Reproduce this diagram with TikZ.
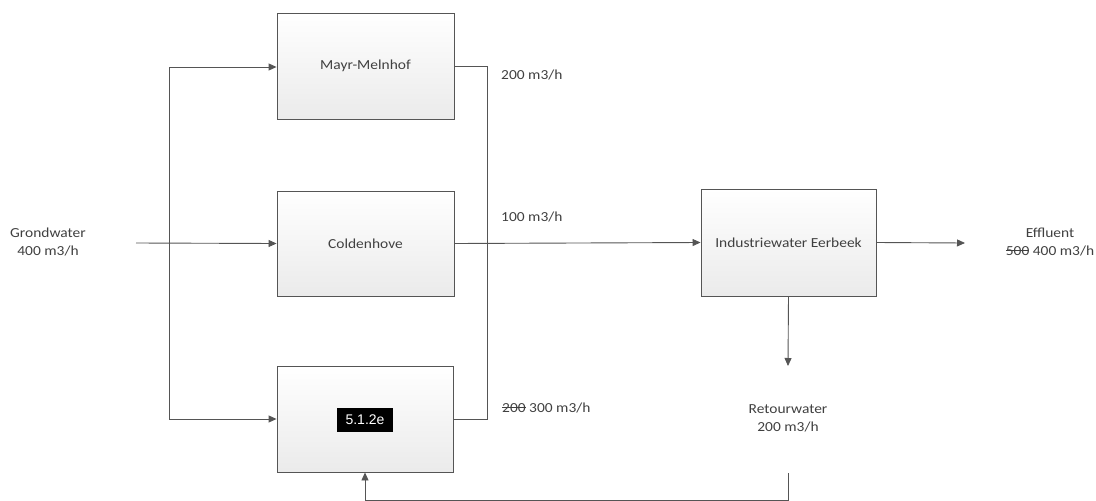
\documentclass[tikz,border=0pt]{standalone}
\usepackage{fontspec}
\setmainfont{Carlito}[FakeStretch=1.12]
\newfontfamily\arialfont{Liberation Sans}
\usetikzlibrary{arrows.meta}
\newcommand\mystrike[1]{\leavevmode\setbox0=\hbox{#1}\rlap{\raisebox{0.3em}{\rule{\wd0}{0.07em}}}\box0\relax}
\definecolor{linegray}{HTML}{555555}
\definecolor{txtgray}{HTML}{404040}
\tikzset{
  procbox/.style={draw=linegray, line width=0.9pt, top color=white, bottom color=black!8,
    minimum width=177pt, minimum height=106pt, inner sep=0pt, text=txtgray,
    font=\fontsize{13.8}{18}\selectfont},
  flow/.style={draw=linegray, line width=0.9pt, -{Triangle[length=8pt,width=7pt]}},
  plain/.style={draw=linegray, line width=0.9pt},
  lbl/.style={text=txtgray, font=\fontsize{13.8}{18}\selectfont, inner sep=0pt, align=center},
  redact/.style={fill=black, text=white, font=\arialfont\fontsize{14}{16}\selectfont, minimum width=56pt, minimum height=24pt, inner sep=0pt}
}
\begin{document}
\begin{tikzpicture}[x=1pt,y=-1pt]
\useasboundingbox (0,0) rectangle (1096,501);
% boxes
\node[procbox] (mayr) at (365.5,66) {Mayr-Melnhof};
\node[procbox, minimum height=105pt] (cold) at (365.5,243.5) {Coldenhove};
\node[procbox, minimum width=176pt] (bot) at (365,419) {};
\node[redact] (red) at (365,420) {5.1.2e};
\node[procbox, minimum width=175pt, minimum height=107pt] (ind) at (788.5,242.5) {Industriewater Eerbeek};
% labels
\node[lbl] (gw) at (48,242) {Grondwater\\400 m3/h};
\node[lbl, anchor=west] (l200) at (501,75) {200 m3/h};
\node[lbl, anchor=west] (l100) at (501,217) {100 m3/h};
\node[lbl, anchor=west] (l300) at (502,408) {\mystrike{200} 300 m3/h};
\node[lbl] (eff) at (1050,242) {Effluent\\\mystrike{500} 400 m3/h};
\node[lbl] (ret) at (788,418) {Retourwater\\200 m3/h};
% coordinates
\coordinate (gin) at (136,243);
\coordinate (jt) at (169,67);
\coordinate (jb) at (169,419);
\coordinate (jm) at (487,243);
\coordinate (eo) at (965,243);
\coordinate (rt) at (788,366);
\coordinate (r1) at (788,473);
\coordinate (r2) at (788,500.8);
% connectors
\draw[flow] (gin) -- (cold.west);
\draw[plain] (jt) -- (jb);
\draw[flow] (jt) -- (mayr.west |- jt);
\draw[flow] (jb) -- (bot.west |- jb);
\draw[plain] (mayr.east) -| (jm);
\draw[plain] (bot.east) -| (jm);
\draw[flow] (cold.east) -- (ind.west);
\draw[flow] (ind.east) -- (eo);
\draw[flow] (ind.south) -- (rt);
\draw[flow] (r1) -- (r2) -| (bot.south);
\end{tikzpicture}
\end{document}
